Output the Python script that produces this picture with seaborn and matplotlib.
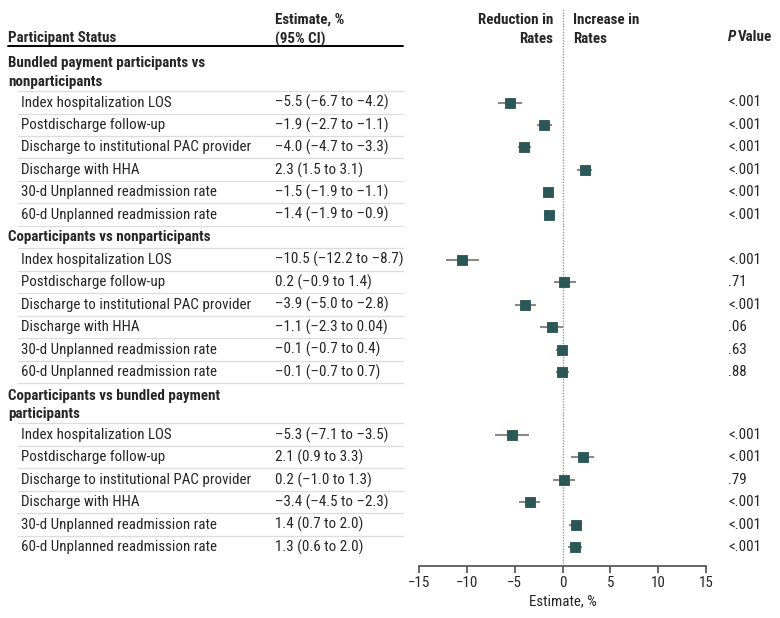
import matplotlib
matplotlib.use("Agg")
import matplotlib.pyplot as plt
from matplotlib import font_manager
import seaborn as sns
import numpy as np
import pandas as pd

# data
groups = ["Bundled payment participants vs\nnonparticipants",
          "Coparticipants vs nonparticipants",
          "Coparticipants vs bundled payment\nparticipants"]
outcomes = ["Index hospitalization LOS", "Postdischarge follow-up",
            "Discharge to institutional PAC provider", "Discharge with HHA",
            "30-d Unplanned readmission rate", "60-d Unplanned readmission rate"]
est = [[-5.5, -1.9, -4.0, 2.3, -1.5, -1.4],
       [-10.5, 0.2, -3.9, -1.1, -0.1, -0.1],
       [-5.3, 2.1, 0.2, -3.4, 1.4, 1.3]]
lo = [[-6.7, -2.7, -4.7, 1.5, -1.9, -1.9],
      [-12.2, -0.9, -5.0, -2.3, -0.7, -0.7],
      [-7.1, 0.9, -1.0, -4.5, 0.7, 0.6]]
hi = [[-4.2, -1.1, -3.3, 3.1, -1.1, -0.9],
      [-8.7, 1.4, -2.8, 0.04, 0.4, 0.7],
      [-3.5, 3.3, 1.3, -2.3, 2.0, 2.0]]
pvals = [["<.001"] * 6,
         ["<.001", ".71", "<.001", ".06", ".63", ".88"],
         ["<.001", "<.001", ".79", "<.001", "<.001", "<.001"]]

sns.set_theme(style="white")
fam = "DejaVu Sans"
for f in ["Liberation Sans Narrow", "Roboto Condensed", "Open Sans"]:
    try:
        font_manager.findfont(f, fallback_to_default=False)
        fam = f
        break
    except Exception:
        pass
plt.rcParams["font.family"] = [fam, "DejaVu Sans"]

def fmt(v):
    s = f"{v:.2f}" if abs(v) < 0.1 and v != 0 and abs(v) * 100 % 10 else f"{v:.1f}"
    return s.replace("-", "\u2013")

# layout (pixel rows, top-down)
rows = []
y = 62
for g in range(3):
    nlines = groups[g].count("\n") + 1
    rows.append(("head", g, None, y))
    y += 18 * (nlines - 1) + 22.5
    for i in range(6):
        rows.append(("row", g, i, y))
        y += 22.45
    y -= 22.45
    y += 22.5

recs = []
for kind, g, i, yy in rows:
    if kind == "row":
        recs.append(dict(y=yy, est=est[g][i], lo=lo[g][i], hi=hi[g][i]))
df = pd.DataFrame(recs)

W, H = 780, 618
fig = plt.figure(figsize=(W / 100, H / 100), dpi=100)
tab = fig.add_axes([0, 0, 1, 1])
tab.set_xlim(0, W)
tab.set_ylim(H, 0)
tab.axis("off")

top, bot = 8, 566
ax = fig.add_axes([419 / W, (H - bot) / H, (706 - 419) / W, (bot - top) / H])
ax.set_xlim(-15, 15)
ax.set_ylim(bot, top)
ax.patch.set_alpha(0)

fs = 10.8
teal = "#2b5756"
ls = 1.45
# headers
tab.text(8, 38, "Participant Status", fontsize=fs, fontweight="bold", va="center")
tab.text(275, 29.5, "Estimate, %\n(95% CI)", fontsize=fs, fontweight="bold", va="center",
         linespacing=ls)
tab.text(553, 29.5, "Reduction in\nRates", fontsize=fs, fontweight="bold", va="center",
         ha="right", linespacing=ls)
tab.text(573, 29.5, "Increase in\nRates", fontsize=fs, fontweight="bold", va="center",
         ha="left", linespacing=ls)
tab.text(728, 37, "P", fontsize=fs, fontweight="bold", fontstyle="italic", va="center")
tab.text(738, 37, "Value", fontsize=fs, fontweight="bold", va="center")
tab.plot([8, 403], [46, 46], color="black", lw=1.4)

for k, (kind, g, i, yy) in enumerate(rows):
    if kind == "head":
        nlines = groups[g].count("\n") + 1
        tab.text(8, yy + 10.5 * (nlines - 1), groups[g], fontsize=fs, fontweight="bold",
                 va="center", linespacing=ls)
        ysep = yy + 18 * (nlines - 1) + 11
    else:
        tab.text(21, yy, outcomes[i], fontsize=fs, va="center")
        tab.text(275, yy, f"{fmt(est[g][i])} ({fmt(lo[g][i])} to {fmt(hi[g][i])})",
                 fontsize=fs, va="center")
        tab.text(728, yy, pvals[g][i], fontsize=fs, va="center")
        ysep = yy + 11
    if k < len(rows) - 1:
        tab.plot([18, 403], [ysep, ysep], color="#dcdcdc", lw=0.9)

ax.axvline(0, color="#9a9a9a", ls=(0, (1, 1)), lw=1)
ax.hlines(df["y"], df["lo"], df["hi"], color="#8a8a8a", lw=1.5)
sns.scatterplot(data=df, x="est", y="y", marker="s", s=62, color=teal,
                edgecolor=teal, ax=ax, zorder=3)

sns.despine(ax=ax, left=True)
ax.spines["bottom"].set_color("#555555")
ax.set_yticks([])
ax.set_ylabel("")
ax.set_xticks(np.arange(-15, 16, 5))
ax.tick_params(axis="x", bottom=True, length=5, color="#555555", labelsize=fs, pad=2)
ax.set_xlabel("Estimate, %", fontsize=fs, labelpad=3)

fig.savefig("out.png", dpi=100)
